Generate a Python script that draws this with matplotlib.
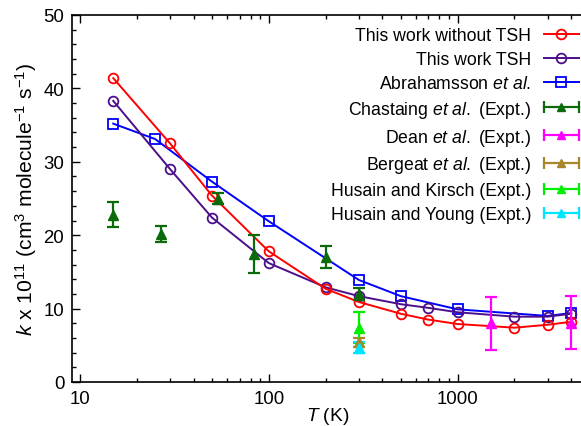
import matplotlib
matplotlib.use("Agg")
import matplotlib.pyplot as plt
import numpy as np
from matplotlib.lines import Line2D
from matplotlib.legend_handler import HandlerLine2D, HandlerTuple
from matplotlib.ticker import LogLocator, NullFormatter, MultipleLocator, FixedLocator, FixedFormatter

plt.rcParams['font.family'] = ['Liberation Sans', 'DejaVu Sans']
plt.rcParams['mathtext.fontset'] = 'custom'
plt.rcParams['mathtext.rm'] = 'Liberation Sans'
plt.rcParams['mathtext.it'] = 'Liberation Sans:italic'

# Data
T_nots = [15, 30, 50, 100, 200, 300, 500, 700, 1000, 2000, 3000, 4000]
k_nots = [41.4, 32.5, 25.4, 17.8, 12.7, 10.9, 9.3, 8.5, 7.9, 7.4, 7.8, 8.2]
T_tsh = [15, 30, 50, 100, 200, 300, 500, 700, 1000, 2000, 3000, 4000]
k_tsh = [38.3, 29.0, 22.4, 16.2, 12.9, 11.7, 10.6, 10.1, 9.5, 8.9, 8.9, 9.3]
T_abr = [15, 25, 50, 100, 300, 500, 1000, 3000, 4000]
k_abr = [35.2, 33.1, 27.3, 21.9, 13.9, 11.7, 9.9, 9.0, 9.4]

T_chas = [15, 27, 54, 83, 200, 300]
k_chas = [22.8, 20.2, 25.0, 17.4, 17.0, 12.0]
e_chas = [1.7, 1.1, 0.7, 2.6, 1.5, 0.8]
T_dean = [1500, 4000]
k_dean = [8.0, 8.1]
e_dean = [3.6, 3.6]
T_berg = [300]
k_berg = [5.4]
e_berg = [0.6]
T_hk = [300]
k_hk = [7.4]
e_hk = [2.1]
T_hy = [300]
k_hy = [4.7]
e_hy = [0.8]

W, H = 581, 427
fig = plt.figure(figsize=(W/100, H/100), dpi=100)
left, right, top, bottom = 72, 583, 16, 383
ax = fig.add_axes([left/W, (H-bottom)/H, (right-left)/W, (bottom-top)/H])

dec = 188.8
x10 = 80
xmin = 10**(1 + (left - x10)/dec)
xmax = 10**(1 + (right - x10)/dec)

lw = 1.4
ms = 7
ax.plot(T_nots, k_nots, color='#ff0000', lw=lw, marker='o', ms=ms, mfc='none', mew=1.3, label='This work without TSH', zorder=5)
ax.plot(T_tsh, k_tsh, color='#4b0f8c', lw=lw, marker='o', ms=ms, mfc='none', mew=1.3, label='This work TSH', zorder=4)
ax.plot(T_abr, k_abr, color='#0000ff', lw=lw, marker='s', ms=6.5, mfc='none', mew=1.3, label=r'Abrahamsson $\mathit{et\ al.}$', zorder=3)

exp_sets = [
    (T_chas, k_chas, e_chas, '#0b6b0b', r'Chastaing $\mathit{et\ al.}$ (Expt.)'),
    (T_dean, k_dean, e_dean, '#ff00ff', r'Dean $\mathit{et\ al.}$ (Expt.)'),
    (T_berg, k_berg, e_berg, '#a8862a', r'Bergeat $\mathit{et\ al.}$ (Expt.)'),
    (T_hk, k_hk, e_hk, '#00ee00', 'Husain and Kirsch (Expt.)'),
    (T_hy, k_hy, e_hy, '#00e5ff', 'Husain and Young (Expt.)'),
]
handles = []
labels = []
hmap = {}
line_handles = ax.get_lines()[:3]
for h in line_handles:
    handles.append(h)
    labels.append(h.get_label())

for Tx, kx, ex, c, lab in exp_sets:
    ax.errorbar(Tx, kx, yerr=ex, fmt='^', color=c, ms=6.5, lw=1.6, capsize=4.5, capthick=1.6, zorder=6)
    capline = Line2D([], [], color=c, lw=1.6, marker='|', ms=9, mew=1.6)
    tri = Line2D([], [], color=c, ls='none', marker='^', ms=6)
    hmap[capline] = HandlerLine2D(numpoints=2, marker_pad=0)
    handles.append((capline, tri))
    labels.append(lab)
hmap[tuple] = HandlerTuple(ndivide=1)

ax.set_xscale('log')
ax.set_xlim(xmin, xmax)
ax.set_ylim(0, 50)
ax.xaxis.set_major_locator(FixedLocator([10, 100, 1000]))
ax.xaxis.set_major_formatter(FixedFormatter(['10', '100', '1000']))
ax.xaxis.set_minor_locator(LogLocator(base=10, subs=np.arange(2, 10)))
ax.xaxis.set_minor_formatter(NullFormatter())
ax.yaxis.set_major_locator(MultipleLocator(10))
ax.yaxis.set_minor_locator(MultipleLocator(2))

fs = 13.4
ax.tick_params(which='both', direction='in', top=True, right=False, labelsize=fs, width=1.0)
ax.tick_params(which='major', length=6)
ax.tick_params(which='minor', length=3)
ax.tick_params(axis='x', pad=5.5)
ax.tick_params(axis='y', pad=5.5)
for s in ax.spines.values():
    s.set_linewidth(1.2)

ax.set_xlabel(r'$\mathit{T}$ (K)', fontsize=13.8, labelpad=-1)
ax.set_ylabel(r'$\mathit{k}$ x 10$^{11}$ (cm$^{3}$ molecule$^{-1}$ s$^{-1}$)', fontsize=15.2, labelpad=3)

leg = ax.legend(handles, labels, handler_map=hmap, loc='upper right', bbox_to_anchor=((579-left)/(right-left), (bottom-28)/(bottom-top)),
                frameon=False, markerfirst=False, fontsize=12.7, handlelength=2.0, handletextpad=0.7,
                labelspacing=0.39, borderaxespad=0.0, borderpad=0.0)

fig.savefig('out.png', dpi=100)
